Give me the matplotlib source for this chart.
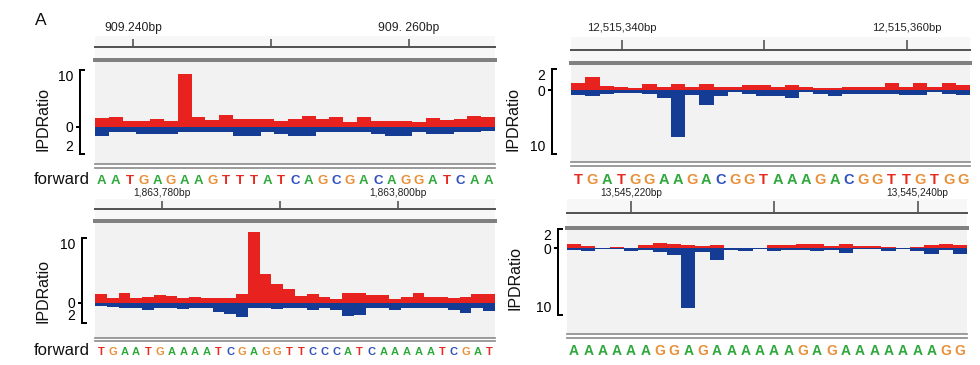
import matplotlib
matplotlib.use('Agg')
import matplotlib.pyplot as plt
import numpy as np

plt.rcParams['font.family'] = ['Liberation Sans', 'DejaVu Sans']

# ---------------- data ----------------
p1_seq = "AATGAGAAGTTTATCAGCGACAGGATCAA"
p1_fwd = [1.7, 1.9, 1.1, 1.1, 1.5, 1.1, 10.0, 1.9, 1.25, 2.3, 1.5, 1.5, 1.5, 1.1, 1.5,
          2.1, 1.5, 1.9, 0.9, 1.9, 1.1, 1.2, 1.1, 0.9, 1.7, 1.25, 1.5, 2.1, 1.9]
p1_rev = [1.6, 1.0, 1.0, 1.4, 1.4, 1.4, 1.0, 0.9, 1.0, 1.0, 1.6, 1.6, 1.0, 1.3, 1.6,
          1.6, 1.0, 1.0, 1.0, 1.0, 1.3, 1.75, 1.75, 1.0, 1.4, 1.4, 1.0, 1.0, 0.8]
p1_start = 909237.25
p1_ticks = [909240, 909250, 909260]
p1_ticklabels = ['909.240bp', '', '909. 260bp']

p2_seq = "TGATGGAAGACGGTAAAGACGGTTGTGG"
p2_fwd = [1.1, 2.05, 0.65, 0.45, 0.3, 0.9, 0.45, 0.9, 0.45, 0.9, 0.45, 0.45, 0.8, 0.8,
          0.45, 0.8, 0.45, 0.3, 0.3, 0.55, 0.55, 0.55, 1.1, 0.55, 1.1, 0.45, 1.1, 0.8]
p2_rev = [0.8, 0.9, 0.7, 0.55, 0.55, 0.65, 1.35, 7.6, 0.8, 2.45, 0.9, 0.35, 0.65, 0.9,
          0.9, 1.25, 0.35, 0.65, 0.9, 0.65, 0.65, 0.65, 0.65, 0.8, 0.8, 0.35, 0.7, 0.8]
p2_start = 12515336.44
p2_ticks = [12515340, 12515350, 12515360]
p2_ticklabels = ['12,515,340bp', '', '12,515,360bp']

p3_seq = "TGAATGAAAATCGAGGTTCCCATCAAAAATCGAT"
p3_fwd = [1.35, 0.8, 1.55, 0.8, 0.9, 1.2, 1.1, 0.8, 0.9, 0.8, 0.8, 0.8, 1.35, 11.0, 4.4,
          2.9, 2.2, 1.0, 1.3, 0.9, 0.55, 1.45, 1.55, 1.2, 1.2, 0.65, 0.9, 1.45, 0.9, 0.9,
          0.8, 0.9, 1.3, 1.3]
p3_rev = [0.5, 0.6, 0.75, 0.9, 1.15, 0.75, 0.75, 1.0, 0.75, 0.9, 1.4, 1.8, 2.2, 0.75, 0.75,
          1.0, 0.9, 0.75, 1.15, 0.9, 1.15, 2.05, 1.9, 0.9, 0.75, 1.15, 0.75, 0.75, 0.9, 0.9,
          1.15, 1.65, 0.9, 1.3]
p3_start = 1863774.27
p3_ticks = [1863780, 1863790, 1863800]
p3_ticklabels = ['1,863,780bp', '', '1,863,800bp']

p4_seq = "AAAAAAGGAGAAAAAAGAGAAAAAAAGG"
p4_fwd = [0.7, 0.4, 0.1, 0.3, 0.05, 0.6, 0.95, 0.7, 0.6, 0.4, 0.6, 0.1, 0.1, 0.1, 0.6,
          0.6, 0.8, 0.8, 0.4, 0.75, 0.4, 0.4, 0.3, 0.1, 0.3, 0.6, 0.75, 0.6]
p4_rev = [0.35, 0.45, 0.1, 0.1, 0.4, 0.3, 0.7, 1.2, 10.2, 0.6, 2.0, 0.3, 0.45, 0.1, 0.45,
          0.25, 0.25, 0.45, 0.25, 0.75, 0.1, 0.1, 0.45, 0.1, 0.45, 0.95, 0.25, 0.95]
p4_start = 13545215.48
p4_ticks = [13545220, 13545230, 13545240]
p4_ticklabels = ['13,545,220bp', '', '13,545,240bp']

# ---------------- style / layout ----------------
W, H = 980, 365
PT = 72 / 100.0
RED = '#e8231f'
BLUE = '#143c94'
BG = '#f2f2f2'
BAND = '#f7f7f7'
BASE_COLORS = {'A': '#2fa83c', 'T': '#e8291f', 'G': '#e8903a', 'C': '#3050bd'}

fig = plt.figure(figsize=(9.8, 3.65), dpi=100)


def rect(l, t, r, b):
    return [l / W, 1 - b / H, (r - l) / W, (b - t) / H]


def em(fs):
    return fs * 100 / 72.0


layouts = [
    dict(left=95, right=495, lab_y=27, lab_fs=8.7, ruler_y=47.3, tick_len=8,
         thick_y=60.3, data_bot=164.3, seq_top=167.7, seq_base=184.5, seq_fs=9.5,
         base_y=127.0, ppu=5.33, br_top=70, br_bot=154, spine_x=80,
         ylab=(43, 119), forward=True, top_lab='10', bot_lab='2'),
    dict(left=571, right=970, lab_y=26.7, lab_fs=8.2, ruler_y=50, tick_len=10,
         thick_y=63.3, data_bot=162.3, seq_top=165.7, seq_base=184.3, seq_fs=10.5,
         base_y=90, ppu=6.17, br_top=69, br_bot=154.3, spine_x=551.7,
         ylab=(512.5, 119.5), forward=False, top_lab='2', bot_lab='10'),
    dict(left=95, right=495, lab_y=191.7, lab_fs=7.4, ruler_y=209.3, tick_len=7.6,
         thick_y=221, data_bot=338.3, seq_top=341, seq_base=355, seq_fs=8,
         base_y=302.7, ppu=6.44, br_top=238.3, br_bot=323.3, spine_x=81.7,
         ylab=(43, 290.8), forward=True, top_lab='10', bot_lab='2'),
    dict(left=566.7, right=967.3, lab_y=192.7, lab_fs=7.3, ruler_y=213.3, tick_len=11.6,
         thick_y=228, data_bot=334, seq_top=338.3, seq_base=355, seq_fs=10,
         base_y=248.3, ppu=5.84, br_top=229, br_bot=315, spine_x=557.7,
         ylab=(515, 277.5), forward=False, top_lab='2', bot_lab='10'),
]

panels = [
    (p1_seq, p1_fwd, p1_rev, p1_start, p1_ticks, p1_ticklabels),
    (p2_seq, p2_fwd, p2_rev, p2_start, p2_ticks, p2_ticklabels),
    (p3_seq, p3_fwd, p3_rev, p3_start, p3_ticks, p3_ticklabels),
    (p4_seq, p4_fwd, p4_rev, p4_start, p4_ticks, p4_ticklabels),
]


def draw_panel(p, seq, fwd, rev, start, ticks, ticklabels):
    n = len(seq)
    xlo, xhi = start, start + n

    # ---- faint band behind the ruler ----
    axb = fig.add_axes(rect(p['left'], p['ruler_y'] - p['tick_len'] - 3,
                            p['right'], p['thick_y']))
    axb.set_facecolor(BAND)
    for s in axb.spines.values():
        s.set_visible(False)
    axb.set_xticks([])
    axb.set_yticks([])

    # ---- ruler ----
    lab_bottom = p['lab_y'] + 0.57 * em(p['lab_fs'])
    axr = fig.add_axes(rect(p['left'], lab_bottom, p['right'], p['ruler_y']))
    axr.set_facecolor('none')
    axr.set_xlim(xlo, xhi)
    axr.set_ylim(0, 1)
    for s in ['top', 'left', 'right']:
        axr.spines[s].set_visible(False)
    axr.spines['bottom'].set_color('#555555')
    axr.spines['bottom'].set_linewidth(2 * PT)
    axr.set_yticks([])
    axr.set_xticks(ticks)
    axr.set_xticklabels(ticklabels, fontsize=p['lab_fs'], color='#222222')
    axr.tick_params(axis='x', direction='in', length=p['tick_len'] * PT,
                    width=1.5 * PT, color='#444444', bottom=True, top=False,
                    labelbottom=False, labeltop=True, pad=0)

    # ---- data track ----
    ax = fig.add_axes(rect(p['left'], p['thick_y'], p['right'], p['data_bot']))
    ax.set_facecolor(BG)
    ytop = (p['base_y'] - p['thick_y']) / p['ppu']
    ybot = -(p['data_bot'] - p['base_y']) / p['ppu']
    ax.set_xlim(xlo, xhi)
    ax.set_ylim(ybot, ytop)
    lefts = start + np.arange(n)
    ax.bar(lefts, fwd, width=1.0, align='edge', color=RED, linewidth=0)
    ax.bar(lefts, -np.asarray(rev), width=1.0, align='edge', color=BLUE, linewidth=0)

    ax.spines['right'].set_visible(False)
    ax.spines['top'].set_color('#808080')
    ax.spines['top'].set_linewidth(4 * PT)
    ax.spines['bottom'].set_color('#8c8c8c')
    ax.spines['bottom'].set_linewidth(1.7 * PT)
    ax.set_xticks([])

    tv = (p['base_y'] - p['br_top']) / p['ppu']
    bv = -(p['br_bot'] - p['base_y']) / p['ppu']
    sp = ax.spines['left']
    sp.set_position(('outward', (p['left'] - p['spine_x']) * PT))
    sp.set_bounds(bv, tv)
    sp.set_linewidth(2 * PT)
    sp.set_color('black')
    ax.set_yticks([tv, bv])
    ax.set_yticklabels([p['top_lab'], p['bot_lab']], fontsize=10)
    ax.set_yticks([0], minor=True)
    ax.set_yticklabels(['0'], minor=True, fontsize=10)
    ax.tick_params(axis='y', which='major', direction='in', length=5 * PT,
                   width=2 * PT, pad=4.8)
    ax.tick_params(axis='y', which='minor', direction='out', length=4 * PT,
                   width=2 * PT, pad=1.9)
    labs = ax.yaxis.get_majorticklabels()
    labs[0].set_verticalalignment('top')
    labs[1].set_verticalalignment('bottom')

    # ---- sequence track ----
    seq_h = 26
    axs = fig.add_axes(rect(p['left'], p['seq_top'], p['right'], p['seq_top'] + seq_h))
    axs.set_facecolor('none')
    axs.set_xlim(xlo, xhi)
    axs.set_ylim(0, 1)
    for s in ['bottom', 'left', 'right']:
        axs.spines[s].set_visible(False)
    axs.spines['top'].set_color('#8c8c8c')
    axs.spines['top'].set_linewidth(1.7 * PT)
    axs.set_xticks([])
    axs.set_yticks([])
    yb = (p['seq_top'] + seq_h - p['seq_base']) / seq_h
    for i, ch in enumerate(seq):
        axs.text(start + i + 0.5, yb, ch, ha='center', va='baseline',
                 fontsize=p['seq_fs'], fontweight='bold', color=BASE_COLORS[ch])

    if p['forward']:
        fig.text(90 / W, 1 - p['seq_base'] / H, 'forward', ha='right', va='baseline',
                 fontsize=12, color='#111111')

    fig.text(p['ylab'][0] / W, 1 - p['ylab'][1] / H, 'IPDRatio', rotation=90,
             ha='center', va='center', fontsize=11.5, color='#111111')


for lay, pan in zip(layouts, panels):
    draw_panel(lay, *pan)

fig.text(41 / W, 1 - 25 / H, 'A', ha='center', va='baseline', fontsize=12.5,
         color='#111111')

fig.savefig('out.png', dpi=100)
